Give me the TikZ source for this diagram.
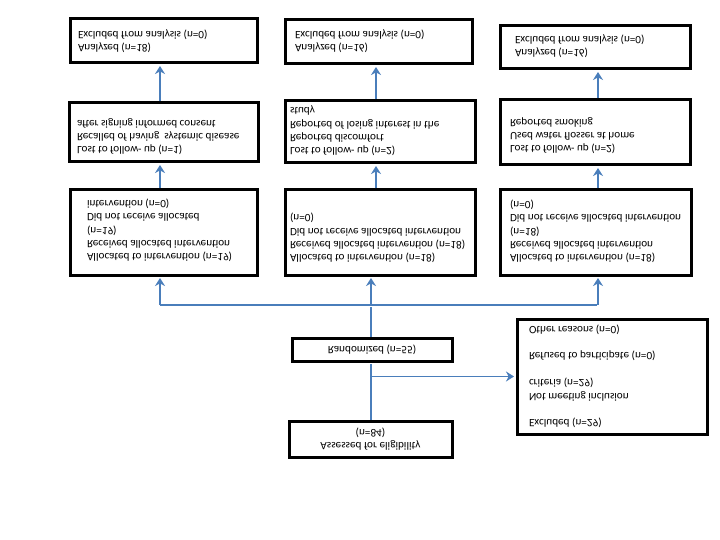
\documentclass[tikz,border=0pt]{standalone}
\usepackage{fontspec}
\setmainfont{Carlito}
\usetikzlibrary{arrows.meta}
\definecolor{linkblue}{RGB}{74,126,187}
\newcommand{\boxlines}[5]{\parbox[c][#2][t]{#1}{\raggedright\leftskip=#3\relax\vspace*{#4}#5}}

\begin{document}
\begin{tikzpicture}[x=1pt,y=1pt,yscale=-1,transform shape,
  >={Stealth[length=8pt,width=10pt]},
  box/.style={draw,line width=3pt,inner sep=0pt,font=\fontsize{11.2}{13.4}\selectfont},
  link/.style={linkblue,line width=1.5pt,shorten >=1.5pt}]
  \useasboundingbox (0,0) rectangle (720,540);

  \node[box,minimum width=163pt,minimum height=36pt,align=center] (S) at (370.5,439)
    {Assessed for eligibility\\(n=84)};
  \node[box,minimum width=160pt,minimum height=23pt] (R) at (372,349.5) {Randomized (n=55)};
  \node[box] (E) at (612,376.5) {\boxlines{190pt}{115pt}{12pt}{6pt}{Excluded (n=29)\\[13.4pt]
    Not meeting inclusion\\criteria (n=29)\\[13.4pt]Refused to participate (n=0)\\[13.4pt]
    Other reasons (n=0)}};

  \node[box] (B1) at (163.5,232.5) {\boxlines{187pt}{85pt}{17pt}{13pt}{Allocated to intervention (n=19)\\
    Received allocated intervention\\(n=19)\\Did not receive allocated\\intervention (n=0)}};
  \node[box] (B2) at (380,232.5) {\boxlines{190pt}{85pt}{5pt}{12pt}{Allocated to intervention (n=18)\\
    Received allocated intervention (n=18)\\Did not receive allocated intervention\\(n=0)}};
  \node[box] (B3) at (595.5,232.5) {\boxlines{191pt}{85pt}{10pt}{12pt}{Allocated to intervention (n=18)\\
    Received allocated intervention\\(n=18)\\Did not receive allocated intervention\\(n=0)}};

  \node[box] (L1) at (163.5,132.5) {\boxlines{189pt}{59pt}{8pt}{7pt}{Lost to follow- up (n=1)\\
    Recalled of having~ systemic disease\\after signing informed consent}};
  \node[box] (L2) at (380,132) {\boxlines{190pt}{62pt}{5pt}{7pt}{Lost to follow- up (n=2)\\
    Reported discomfort\\Reported of losing interest in the\\study}};
  \node[box] (L3) at (595,132.5) {\boxlines{190pt}{65pt}{10pt}{11pt}{Lost to follow- up (n=2)\\
    Used water flosser at home\\Reported smoking}};

  \node[box] (A1) at (163.5,41) {\boxlines{187pt}{44pt}{8pt}{10pt}{Analyzed (n=18)\\Excluded from analysis (n=0)}};
  \node[box] (A2) at (378.5,42) {\boxlines{187pt}{44pt}{10pt}{11pt}{Analyzed (n=16)\\Excluded from analysis (n=0)}};
  \node[box] (A3) at (595,47.5) {\boxlines{190pt}{43pt}{15pt}{11pt}{Analyzed (n=16)\\Excluded from analysis (n=0)}};

  \coordinate (s1) at (160,305);
  \coordinate (s2) at (371,305);
  \coordinate (s3) at (598,305);
  \coordinate (u1) at (160,0);
  \coordinate (u2) at (376,0);
  \coordinate (u3) at (598,0);
  \coordinate (J) at (s2 |- E.west);

  \draw[link] (S.south -| s2) -- (R.north -| s2);
  \draw[link,->] (J) -- (E.west);
  \draw[link] (R.south -| s2) -- (s2);
  \draw[link] (s1) -- (s3);
  \foreach \i in {1,2,3} {
    \draw[link,->] (s\i) -- (B\i.north -| s\i);
    \draw[link,->] (B\i.south -| u\i) -- (L\i.north -| u\i);
    \draw[link,->] (L\i.south -| u\i) -- (A\i.north -| u\i);
  }
\end{tikzpicture}
\end{document}
